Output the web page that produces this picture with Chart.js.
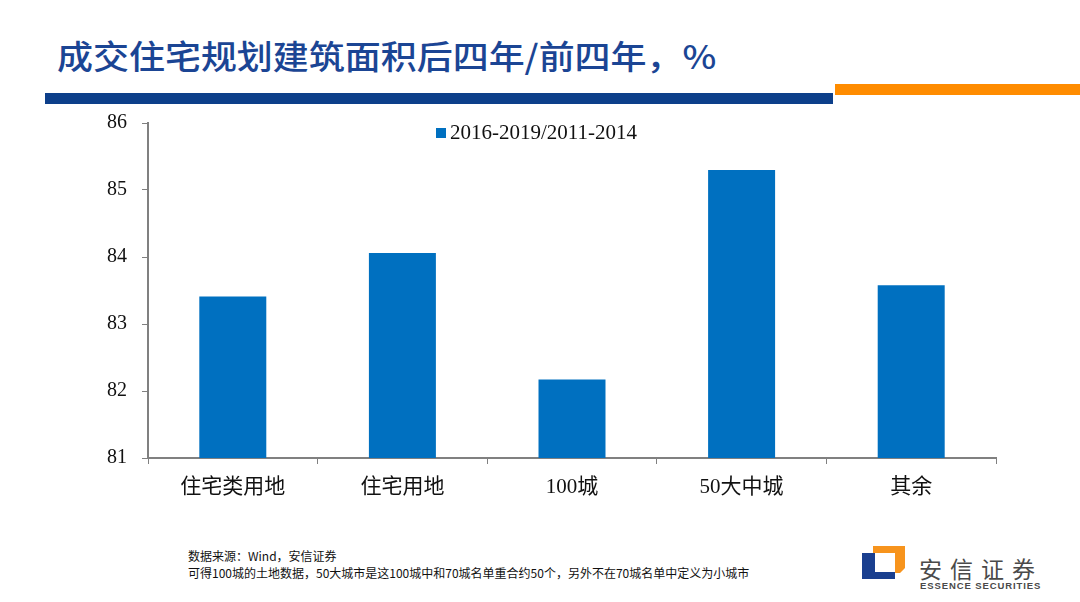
<!DOCTYPE html>
<html>
<head>
<meta charset="utf-8">
<script src="https://cdn.jsdelivr.net/npm/chart.js@4/dist/chart.umd.min.js"></script>
<style>
    body { margin: 0; width: 1080px; height: 602px; background: #fff; position: relative; overflow: hidden; font-family: "Noto Sans CJK SC", sans-serif; }
    #title { position: absolute; left: 57px; top: 30px; font-size: 33px; color: #1b4594; font-weight: 500; line-height: 50px; white-space: nowrap; transform: scaleX(1.09); transform-origin: left center; }
    #barBlue { position: absolute; left: 45px; top: 93px; width: 788px; height: 11px; background: #0d3f8a; }
    #barOrange { position: absolute; left: 835px; top: 84px; width: 245px; height: 11px; background: #ff8c00; }
    #chartBox { position: absolute; left: 0; top: 96px; width: 1080px; height: 424px; }
    #legend { position: absolute; left: 436px; top: 120px; font-family: "Liberation Serif", serif; font-size: 21px; color: #111; white-space: nowrap; }
    #legend span.box { display: inline-block; width: 10px; height: 10px; background: #0070c0; margin-right: 4px; vertical-align: 1px; }
    .note { position: absolute; left: 188px; font-size: 12px; color: #111; white-space: nowrap; line-height: 14px; }
    #logoText { position: absolute; left: 919px; top: 554px; font-size: 23px; line-height: 28px; color: #4a4a4a; letter-spacing: 8px; white-space: nowrap; }
    #logoSub { position: absolute; left: 920px; top: 580px; font-size: 9.5px; line-height: 12px; color: #4a4a4a; font-family: "Liberation Sans", sans-serif; font-weight: bold; letter-spacing: 0.9px; white-space: nowrap; }
</style>
</head>
<body>
<div id="title">成交住宅规划建筑面积后四年/前四年，%</div>
<div id="barBlue"></div>
<div id="barOrange"></div>
<div id="chartBox"><canvas id="chart"></canvas></div>
<div id="legend"></div>
<div class="note" style="top:549px">数据来源：Wind，安信证券</div>
<div class="note" style="top:566px">可得100城的土地数据，50大城市是这100城中和70城名单重合约50个，另外不在70城名单中定义为小城市</div>
<svg style="position:absolute;left:858px;top:544px" width="52" height="40">
    <polygon points="4,9 17,9 17,28 37,28 37,35 4,35" fill="#1a3f8f"/>
    <polygon points="15,2 47,2 47,24 42,29 37,29 37,9 15,9" fill="#f7941d"/>
</svg>
<div id="logoText">安信证券</div>
<div id="logoSub">ESSENCE SECURITIES</div>

<script>
// chart data
const categories = ['住宅类用地', '住宅用地', '100城', '50大中城', '其余'];
const seriesLabel = '2016-2019/2011-2014';
const ratioValues = [83.41, 84.06, 82.17, 85.30, 83.58];
const yTicks = [81, 82, 83, 84, 85, 86];

const barColor = '#0070c0';
const axisColor = '#808080';

// legend drawn as html inside the plot area
const legend = document.getElementById('legend');
legend.innerHTML = '<span class="box"></span>' + seriesLabel;

const ctx = document.getElementById('chart').getContext('2d');
const chart = new Chart(ctx, {
    type: 'bar',
    data: {
        labels: categories,
        datasets: [
            {
                label: seriesLabel,
                data: ratioValues,
                backgroundColor: barColor,
                borderWidth: 0,
                barPercentage: 0.395,
                categoryPercentage: 1.0,
            },
        ],
    },
    options: {
        responsive: true,
        maintainAspectRatio: false,
        animation: false,
        layout: {
            padding: { top: 18, right: 84, left: 0, bottom: 0 },
        },
        plugins: {
            legend: { display: false },
            tooltip: { enabled: false },
        },
        scales: {
            x: {
                offset: true,
                grid: {
                    offset: true,
                    drawOnChartArea: false,
                    drawTicks: true,
                    tickLength: 6,
                    color: axisColor,
                },
                border: { color: axisColor, width: 2 },
                ticks: {
                    color: '#111',
                    padding: 11,
                    font: { family: '"Liberation Serif", "Noto Sans CJK SC"', size: 21 },
                },
                afterFit: (scale) => { scale.height = 62; },
            },
            y: {
                min: yTicks[0],
                max: yTicks[yTicks.length - 1],
                afterBuildTicks: (scale) => { scale.ticks = yTicks.map(v => ({ value: v })); },
                grid: {
                    drawOnChartArea: false,
                    drawTicks: true,
                    tickLength: 6,
                    color: axisColor,
                },
                border: { color: axisColor, width: 2 },
                ticks: {
                    color: '#111',
                    padding: 15,
                    font: { family: '"Liberation Serif", serif', size: 20 },
                },
                afterFit: (scale) => { scale.width = 148; },
            },
        },
    },
});
</script>
</body>
</html>
